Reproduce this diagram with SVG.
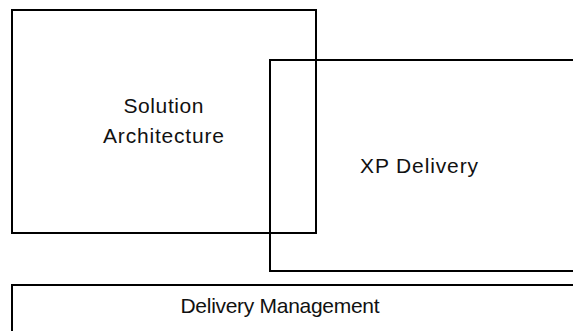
<svg xmlns="http://www.w3.org/2000/svg" width="573" height="331" viewBox="0 0 573 331">
<style>
.box{fill:none;stroke:#000;stroke-width:2}
.lbl{font-family:"Liberation Sans",Arial,sans-serif;font-size:21px;fill:#111;text-anchor:middle}
</style>
<rect width="573" height="331" fill="#fff"/>
<g id="solution-architecture">
<rect class="box" x="12" y="10" width="304" height="223"/>
<text class="lbl" x="163.5" y="113" textLength="80" lengthAdjust="spacing">Solution</text>
<text class="lbl" x="163.5" y="142.5" textLength="121" lengthAdjust="spacing">Architecture</text>
</g>
<g id="xp-delivery">
<rect class="box" x="270" y="60" width="320" height="211"/>
<text class="lbl" x="419" y="173" textLength="118" lengthAdjust="spacing">XP Delivery</text>
</g>
<g id="delivery-management">
<rect class="box" x="12" y="285" width="600" height="80"/>
<text class="lbl" x="280" y="312.5" textLength="199" lengthAdjust="spacing">Delivery Management</text>
</g>
<g id="connectors"></g>
</svg>
